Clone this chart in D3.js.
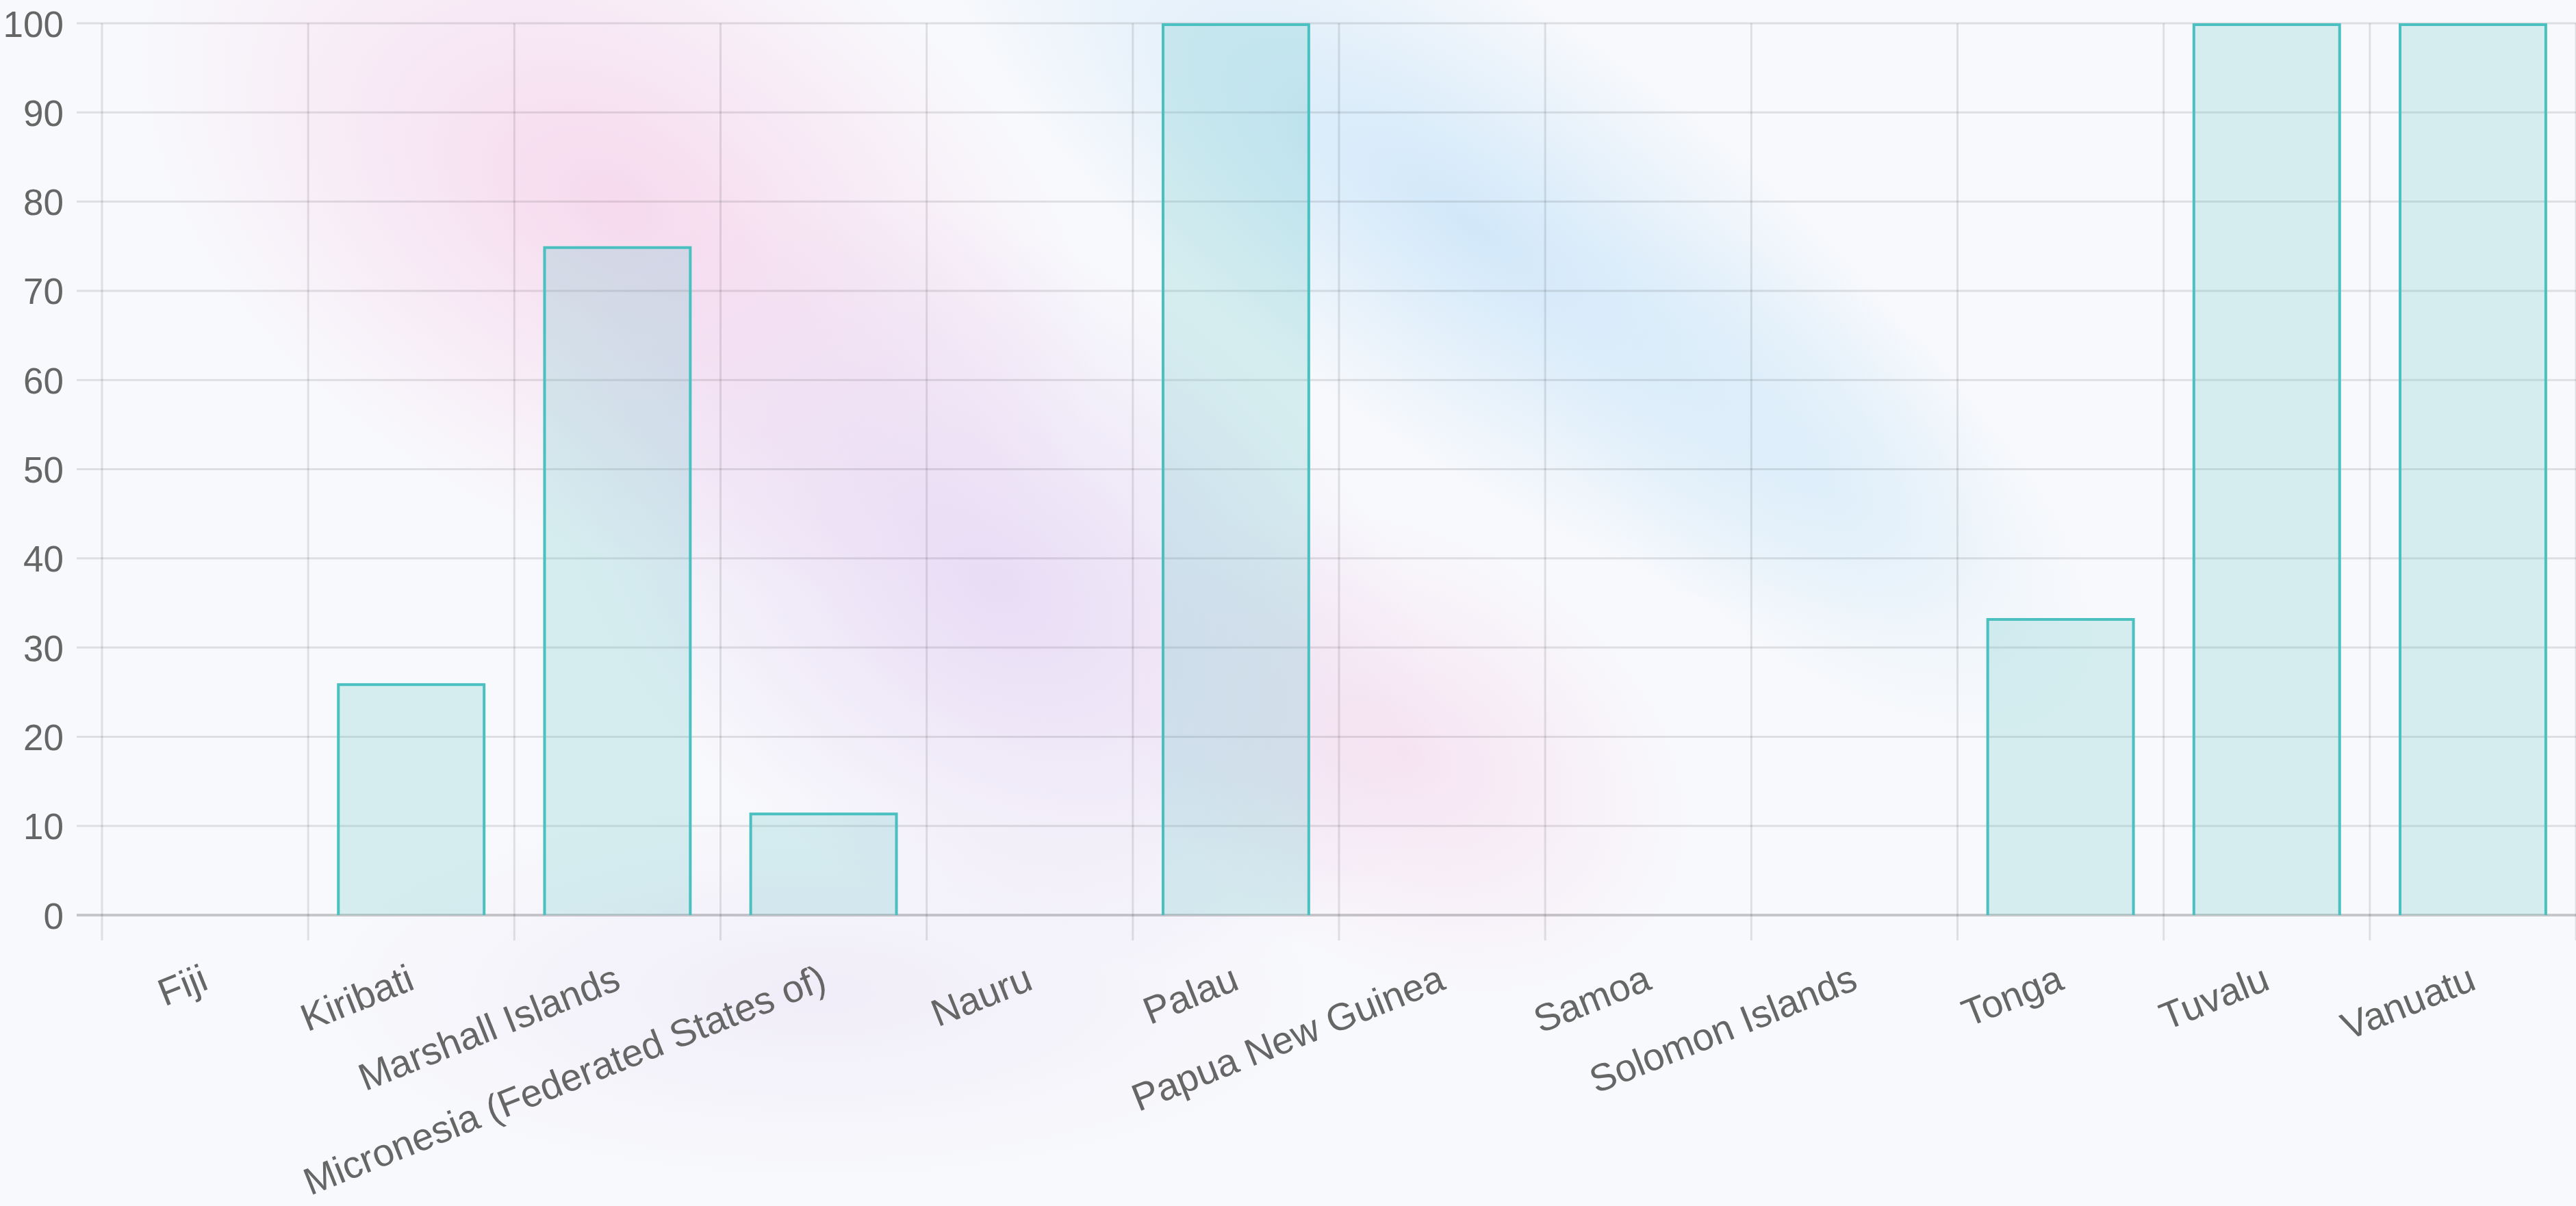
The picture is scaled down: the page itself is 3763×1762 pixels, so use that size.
<!DOCTYPE html>
<html>
<head>
    <meta charset="utf-8">
    <title>Pacific island countries</title>
    <style>
        html, body {
            margin: 0;
            padding: 0;
            background: #f8f9fc;
            overflow: hidden;
        }
        svg {
            display: block;
        }
        .axis text {
            font-family: 'Liberation Sans', Arial, Helvetica, sans-serif;
            fill: #666;
        }
        .axis path {
            display: none;
        }
    </style>
</head>
<body>
<div id="chart"></div>
<script src="https://cdn.jsdelivr.net/npm/d3@7"></script>
<script>
    (function(d3) {
        'use strict';
        var categories = ['Fiji', 'Kiribati', 'Marshall Islands', 'Micronesia (Federated States of)',
            'Nauru', 'Palau', 'Papua New Guinea', 'Samoa', 'Solomon Islands', 'Tonga', 'Tuvalu', 'Vanuatu'];
        var values = [0, 26, 75, 11.5, 0, 100, 0, 0, 0, 33.3, 100, 100];
        var yTicks = [0, 10, 20, 30, 40, 50, 60, 70, 80, 90, 100];

        var width = 3763;
        var height = 1762;
        var margin = { top: 34, right: 0, bottom: 425, left: 149 };
        var tickLen = 37;

        var svg = d3.select('#chart')
            .append('svg')
            .attr('width', width)
            .attr('height', height);

        // soft coloured blobs in the background
        var defs = svg.append('defs');
        var blobs = [
            { id: 'b1', cx: 900, cy: 300, rx: 760, ry: 480, rot: 30, color: '245,196,228', a: 0.6 },
            { id: 'b2', cx: 1450, cy: 850, rx: 720, ry: 480, rot: 35, color: '222,200,240', a: 0.6 },
            { id: 'b3', cx: 2150, cy: 330, rx: 950, ry: 330, rot: 35, color: '196,226,248', a: 0.75 },
            { id: 'b4', cx: 2050, cy: 1100, rx: 450, ry: 320, rot: 30, color: '244,206,232', a: 0.5 },
            { id: 'b5', cx: 1200, cy: 1450, rx: 750, ry: 280, rot: 0, color: '226,214,242', a: 0.35 },
            { id: 'b6', cx: 2650, cy: 700, rx: 520, ry: 260, rot: 40, color: '206,232,248', a: 0.45 }
        ];
        blobs.forEach(function(b) {
            var g = defs.append('radialGradient').attr('id', b.id);
            g.append('stop').attr('offset', '0%').attr('stop-color', 'rgba(' + b.color + ',' + b.a + ')');
            g.append('stop').attr('offset', '100%').attr('stop-color', 'rgba(' + b.color + ',0)');
        });
        svg.append('rect')
            .attr('width', width)
            .attr('height', height)
            .attr('fill', '#f8f9fc');
        svg.append('g').selectAll('ellipse')
            .data(blobs)
            .enter()
            .append('ellipse')
            .attr('cx', function(d) { return d.cx; })
            .attr('cy', function(d) { return d.cy; })
            .attr('rx', function(d) { return d.rx; })
            .attr('ry', function(d) { return d.ry; })
            .attr('transform', function(d) { return 'rotate(' + d.rot + ',' + d.cx + ',' + d.cy + ')'; })
            .attr('fill', function(d) { return 'url(#' + d.id + ')'; });

        var x = d3.scaleBand()
            .domain(categories)
            .range([margin.left, width - margin.right]);
        var y = d3.scaleLinear()
            .domain([0, 100])
            .range([height - margin.bottom, margin.top]);

        var bottom = y(0);
        var right = width - margin.right;

        // grid
        var grid = svg.append('g');
        grid.selectAll('.hgrid')
            .data(yTicks)
            .enter()
            .append('line')
            .attr('x1', margin.left - tickLen)
            .attr('x2', right)
            .attr('y1', function(d) { return y(d); })
            .attr('y2', function(d) { return y(d); })
            .attr('stroke', function(d) { return d === 0 ? 'rgba(0,0,0,0.2)' : 'rgba(0,0,0,0.1)'; })
            .attr('stroke-width', function(d) { return d === 0 ? 4 : 3; });

        var edges = categories.map(function(c) { return x(c); }).concat([right]);
        grid.selectAll('.vgrid')
            .data(edges)
            .enter()
            .append('line')
            .attr('x1', function(d) { return d; })
            .attr('x2', function(d) { return d; })
            .attr('y1', margin.top)
            .attr('y2', bottom + tickLen)
            .attr('stroke', 'rgba(0,0,0,0.1)')
            .attr('stroke-width', 3);

        // bars: 0.8 category * 0.9 bar, border on top and sides only
        var bw = x.bandwidth() * 0.72;
        var barData = categories.map(function(c, i) { return { c: c, v: values[i] }; })
            .filter(function(d) { return d.v > 0; });

        var bars = svg.append('g')
            .selectAll('g')
            .data(barData)
            .enter()
            .append('g');

        bars.append('rect')
            .attr('x', function(d) { return x(d.c) + (x.bandwidth() - bw) / 2; })
            .attr('y', function(d) { return y(d.v); })
            .attr('width', bw)
            .attr('height', function(d) { return bottom - y(d.v); })
            .attr('fill', 'rgba(75,192,192,0.2)');

        bars.append('path')
            .attr('d', function(d) {
                var x0 = x(d.c) + (x.bandwidth() - bw) / 2 + 2;
                var x1 = x0 + bw - 4;
                var y0 = y(d.v) + 2;
                return 'M' + x0 + ',' + bottom + 'V' + y0 + 'H' + x1 + 'V' + bottom;
            })
            .attr('fill', 'none')
            .attr('stroke', 'rgb(75,192,192)')
            .attr('stroke-width', 4);

        // axes
        svg.append('g')
            .attr('class', 'axis')
            .attr('transform', 'translate(' + margin.left + ',0)')
            .call(d3.axisLeft(y).tickValues(yTicks).tickSize(0).tickPadding(tickLen + 19))
            .selectAll('text')
            .attr('font-size', 53)
            .attr('dy', '0.36em');

        svg.append('g')
            .attr('class', 'axis')
            .attr('transform', 'translate(0,' + bottom + ')')
            .call(d3.axisBottom(x).tickSize(0))
            .selectAll('text')
            .attr('font-size', 56)
            .attr('text-anchor', 'end')
            .attr('y', 0)
            .attr('dy', '0.35em')
            .attr('transform', 'translate(0,' + (tickLen + 52) + ') rotate(-21.8)');
    })(window.d3);
</script>
</body>
</html>
